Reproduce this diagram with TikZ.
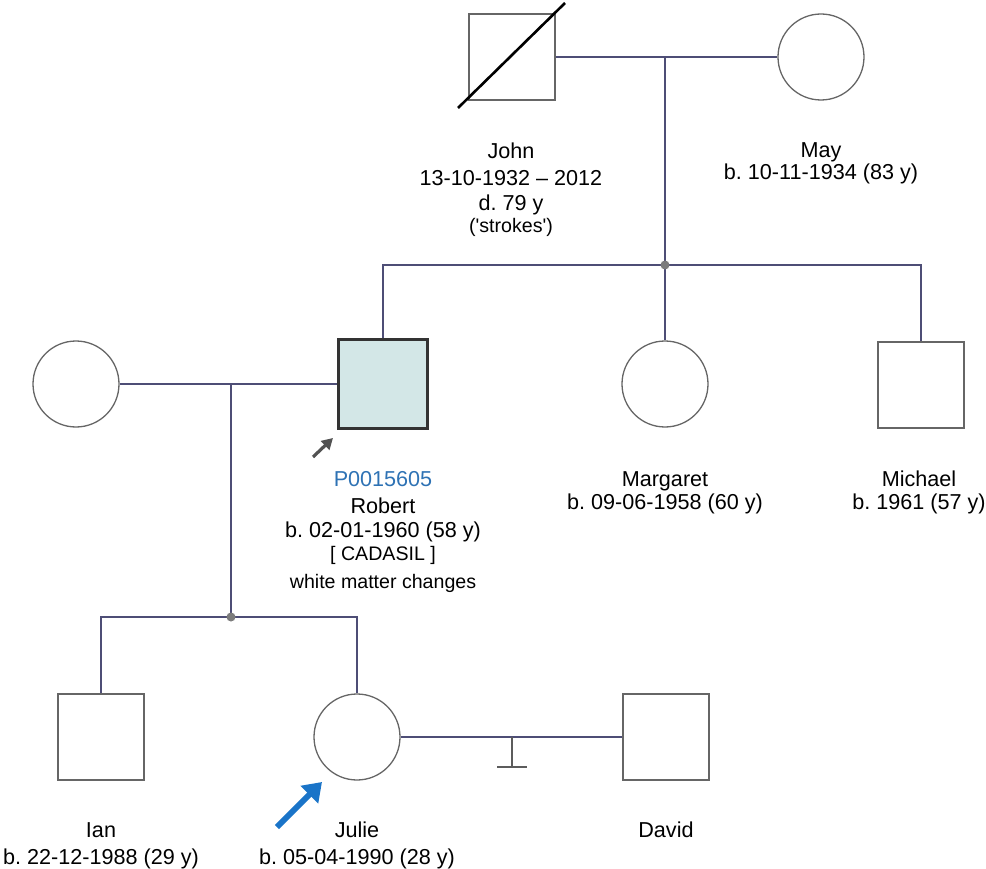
\documentclass[tikz,border=0pt]{standalone}
\usepackage{fontspec}
\setmainfont{Liberation Sans}
\usepackage{xcolor}
\usetikzlibrary{arrows.meta,positioning}
\definecolor{link}{HTML}{4E4E76}
\definecolor{outline}{HTML}{666666}
\definecolor{darkline}{HTML}{333333}
\definecolor{affected}{HTML}{D3E7E7}
\definecolor{idblue}{HTML}{2E72B4}
\definecolor{pointblue}{HTML}{1A74C8}
\definecolor{knot}{HTML}{7C7C7C}
\frenchspacing
\newcommand{\smalltxt}[1]{{\fontsize{19.6}{23}\selectfont #1}}
\tikzset{
  male/.style={draw=outline,line width=1.3pt,minimum size=86pt,inner sep=0pt},
  female/.style={male,circle},
  proband/.style={male,draw=darkline,line width=2.4pt,fill=affected,minimum size=89pt},
  rel/.style={draw=link,line width=1.6pt},
  lbl/.style={font=\fontsize{21.6}{25}\selectfont,align=center,inner sep=0pt,anchor=base},
  notick/.style={draw=darkline!80,line width=1.6pt},
  dead/.style={draw=black,line width=2.6pt},
  pointer/.style={-{Triangle[length=11pt,width=12pt]},draw=darkline!85,line width=3.2pt},
  bigpointer/.style={-{Triangle[length=18pt,width=24pt]},draw=pointblue,line width=6pt}
}

\begin{document}
\begin{tikzpicture}[x=1pt,y=-1pt]
  \useasboundingbox (0,0) rectangle (986,869);
  % first generation
  \node[male] (john) at (512,57) {};
  \node[female] (may) at (821,57) {};
  \draw[dead] (458,108) -- (565,3);
  \coordinate (jm) at (665,57);
  \coordinate (sib) at (665,265);
  \draw[rel] (john.east) -- (may.west);
  \draw[rel] (jm) -- (sib);
  % second generation
  \node[female] (spouse) at (76,384) {};
  \node[proband] (robert) at (383,384) {};
  \node[female] (margaret) at (665,384) {};
  \node[male] (michael) at (921,385) {};
  \draw[rel] (robert.north) |- (michael.north |- sib) -- (michael.north);
  \draw[rel] (sib) -- (margaret.north);
  \coordinate (rs) at (231,384);
  \coordinate (kids) at (231,617);
  \draw[rel] (spouse.east) -- (robert.west);
  \draw[rel] (rs) -- (kids);
  % third generation
  \node[male] (ian) at (101,737) {};
  \node[female] (julie) at (357,737) {};
  \node[male] (david) at (666,737) {};
  \draw[rel] (ian.north) |- (kids) -| (julie.north);
  \draw[rel] (julie.east) -- (david.west);
  \coordinate (nochild) at (512,737);
  \draw[notick] (nochild) -- ++(0,30) ++(-15,0) -- ++(30,0);
  \fill[knot] (sib) circle (4.5pt);
  \fill[knot] (kids) circle (4.5pt);
  % pointers
  \coordinate (ptail) at (313,457);
  \coordinate (phead) at (333,438);
  \draw[pointer] (ptail) -- (phead);
  \coordinate (btail) at (277,827);
  \coordinate (bhead) at (322,782);
  \draw[bigpointer] (btail) -- (bhead);
  % labels (anchored at the baseline of the last line)
  \node[lbl] (johnlbl) at (511,233) {John\\[2pt]13-10-1932 -- 2012\\d. 79 y\\[-3pt]\smalltxt{(\textquotesingle strokes\textquotesingle)}};
  \node[lbl] (maylbl) at (821,180) {May\\[-3pt]b. 10-11-1934 (83 y)};
  \node[lbl] (robertlbl) at (383,588) {\textcolor{idblue}{P0015605}\\[2pt]Robert\\[-1pt]b. 02-01-1960 (58 y)\\[-2pt]\smalltxt{[ CADASIL ]}\\[3pt]\smalltxt{white matter changes}};
  \node[lbl] (margaretlbl) at (665,509) {Margaret\\[-2pt]b. 09-06-1958 (60 y)};
  \node[lbl] (michaellbl) at (919,509) {Michael\\[-2pt]b. 1961 (57 y)};
  \node[lbl] (ianlbl) at (101,864) {Ian\\[2pt]b. 22-12-1988 (29 y)};
  \node[lbl] (julielbl) at (357,864) {Julie\\[2pt]b. 05-04-1990 (28 y)};
  \node[lbl] (davidlbl) at (666,837) {David};
\end{tikzpicture}
\end{document}
